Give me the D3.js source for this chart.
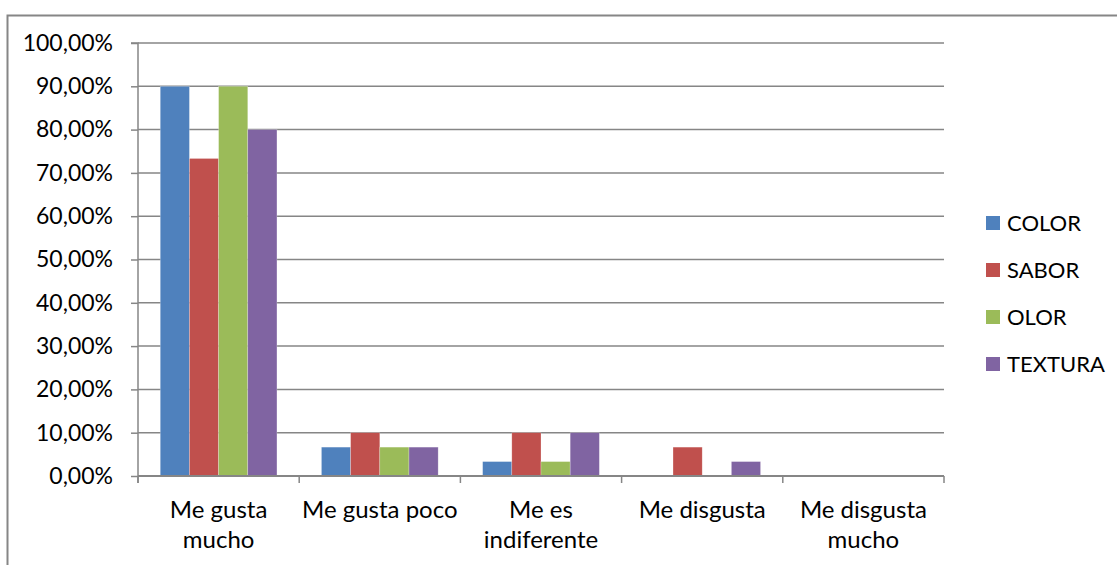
<!DOCTYPE html>
<html><head><meta charset="utf-8">
<script src="https://cdn.jsdelivr.net/npm/d3@7"></script>
<style>body{margin:0;background:#fff}svg{display:block}text{font-family:Lato,"Open Sans",sans-serif;fill:#000}</style>
</head><body>
<svg id="c" width="1117" height="565"></svg>
<script>
const categories = [["Me gusta","mucho"],["Me gusta poco"],["Me es","indiferente"],["Me disgusta"],["Me disgusta","mucho"]];
const seriesNames = ["COLOR","SABOR","OLOR","TEXTURA"];
const colors = ["#4F81BD","#C0504D","#9BBB59","#8064A2"];
const COLOR   = [0.90, 0.0667, 0.0333, 0, 0];
const SABOR   = [0.7333, 0.10, 0.10, 0.0667, 0];
const OLOR    = [0.90, 0.0667, 0.0333, 0, 0];
const TEXTURA = [0.80, 0.0667, 0.10, 0.0333, 0];
const series = [COLOR, SABOR, OLOR, TEXTURA];
const yTicks = [0,0.1,0.2,0.3,0.4,0.5,0.6,0.7,0.8,0.9,1.0];

const svg = d3.select("#c");
const L=138, R=944, T=43, B=476;

// outer frame
svg.append("path").attr("d","M7.5,570 V15.5 H1125").attr("fill","none").attr("stroke","#868686").attr("stroke-width",2);

const y = d3.scaleLinear().domain([0,1]).range([B,T]);
const x0 = d3.scaleBand().domain(d3.range(categories.length)).range([L,R]).paddingInner(0.276).paddingOuter(0.138);
const x1 = d3.scaleBand().domain(d3.range(series.length)).range([0,x0.bandwidth()]);

// gridlines
svg.append("g").selectAll("line").data(yTicks.slice(1)).join("line")
  .attr("x1",L).attr("x2",R).attr("y1",d=>y(d)).attr("y2",d=>y(d))
  .attr("stroke","#868686").attr("stroke-width",1.5);

// bars
series.forEach((s,i)=>{
  svg.append("g").selectAll("rect").data(s).join("rect")
    .attr("x",(d,j)=>x0(j)+x1(i)).attr("width",x1.bandwidth())
    .attr("y",d=>y(d)).attr("height",d=>B-y(d))
    .attr("fill",colors[i]).attr("stroke","rgba(255,255,255,0.4)").attr("stroke-width",0.6);
});

// y axis
const ya = d3.axisLeft(y).tickValues(yTicks).tickSize(7).tickPadding(18)
  .tickFormat(d=>d3.format(".2f")(d*100).replace(".",",")+"%");
const gy = svg.append("g").attr("transform",`translate(${L},0)`).call(ya);
gy.select(".domain").attr("stroke","#868686").attr("stroke-width",1.5).attr("d",`M-7,${T}H0V${B+7}`);
gy.selectAll(".tick line").attr("stroke","#868686").attr("stroke-width",1.5);
gy.selectAll(".tick text").attr("font-size",23).attr("font-family","Lato").attr("fill","#000").attr("x",-25);

// x axis
const xLin = d3.scaleLinear().domain([0,categories.length]).range([L,R]);
const gx = svg.append("g").attr("transform",`translate(0,${B})`);
gx.append("line").attr("x1",L).attr("x2",R).attr("stroke","#868686").attr("stroke-width",2);
gx.selectAll("line.t").data(d3.range(categories.length+1)).join("line").attr("class","t")
  .attr("x1",d=>xLin(d)).attr("x2",d=>xLin(d)).attr("y1",0).attr("y2",7)
  .attr("stroke","#868686").attr("stroke-width",1.5);
categories.forEach((lines,j)=>{
  const cx = xLin(j+0.5);
  lines.forEach((t,k)=>{
    svg.append("text").attr("x",cx).attr("y",510+k*30).attr("dy","0.35em")
      .attr("text-anchor","middle").attr("font-size",24).text(t);
  });
});

// legend
seriesNames.forEach((n,i)=>{
  const cy = 223+i*47;
  svg.append("rect").attr("x",986).attr("y",cy-7).attr("width",14).attr("height",14).attr("fill",colors[i]);
  svg.append("text").attr("x",1007).attr("y",cy).attr("dy","0.35em").attr("font-size",22).text(n);
});
</script>
</body></html>
